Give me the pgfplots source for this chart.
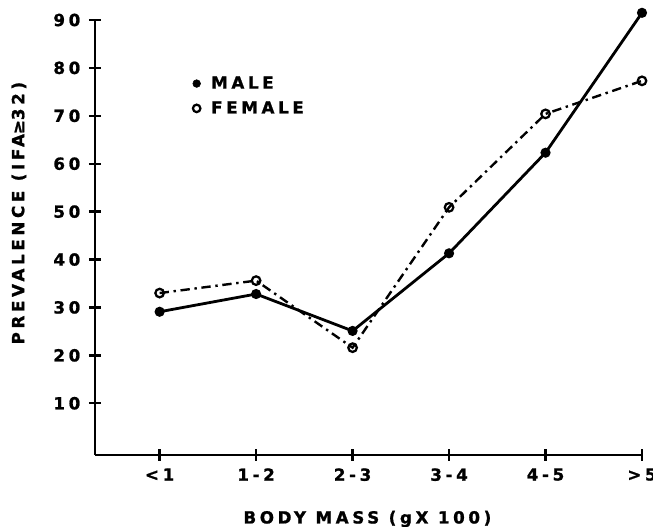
\documentclass[border=0pt]{standalone}
\usepackage{pgfplots}
\pgfplotsset{compat=1.18}
\usepackage{fontspec}
\setmainfont{DejaVu Sans}[LetterSpace=22, BoldFeatures={FakeBold=1.2}]
\newfontfamily\symf{DejaVu Sans}[BoldFeatures={FakeBold=1.2}]
\begin{document}
\begin{tikzpicture}[x=1pt,y=1pt]
\path[use as bounding box, clip] (-71.25,-54) rectangle (418.5,341.25);
\begin{axis}[
  at={(0,0)}, anchor=south west,
  scale only axis, width=410.25pt, height=326.25pt,
  xmin=-0.67, xmax=5, ymin=-0.8, ymax=90, clip=false,
  axis x line=bottom, axis y line=left,
  axis line style={-, line width=2pt},
  xtick={0,1,2,3,4,5},
  xticklabels={<1,1-2,2-3,3-4,4-5,>5},
  ytick={10,20,30,40,50,60,70,80,90},
  major tick style={line width=1.8pt, black},
  major tick length=9pt,
  /pgf/number format/assume math mode=true,
  ticklabel style={font=\fontsize{12.5}{13}\selectfont\bfseries},
  yticklabel style={xshift=-3pt},
  xticklabel style={yshift=-2pt},
  xlabel={BODY MASS (gX 100)},
  ylabel={PREVALENCE (IFA{\symf\bfseries ≥}32)},
  label style={font=\fontsize{12.5}{13}\selectfont\bfseries},
  xlabel style={at={(axis description cs:0.498,-0.147)}, anchor=center},
  ylabel style={at={(axis description cs:-0.139,0.556)}, anchor=center},
  legend style={draw=none, fill=none, at={(axis description cs:0.171,0.883)}, anchor=north west,
    font=\fontsize{12.5}{13}\selectfont\bfseries, row sep=4pt},
  legend cell align=left,
]
\addplot[black, line width=2.1pt, mark=*, mark size=2.7pt, forget plot]
  coordinates {(0,29.1) (1,32.8) (2,25.1) (3,41.3) (4,62.3) (5,91.5)};
\addplot[black, line width=1.8pt, dash pattern=on 7pt off 3.5pt on 1.8pt off 3.5pt,
  mark=o, mark size=3.2pt, mark options={solid, line width=1.7pt, fill=white}, forget plot]
  coordinates {(0,33.0) (1,35.6) (2,21.6) (3,50.9) (4,70.4) (5,77.3)};
\addlegendimage{only marks, black, mark=*, mark size=2.9pt}
\addlegendentry{\hspace{6pt}MALE}
\addlegendimage{only marks, black, mark=o, mark size=2.8pt, mark options={line width=1.7pt}}
\addlegendentry{\hspace{6pt}FEMALE}
\end{axis}
\end{tikzpicture}
\end{document}
